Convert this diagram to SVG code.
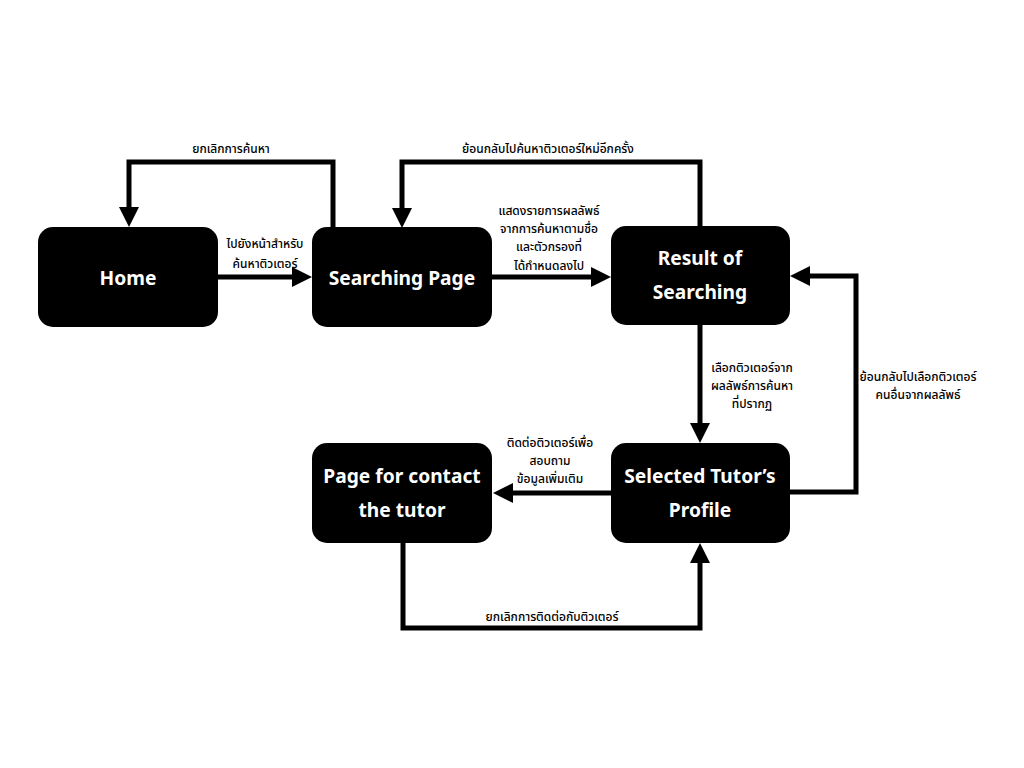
<svg xmlns="http://www.w3.org/2000/svg" width="1024" height="768" viewBox="0 0 1024 768">
<style>
.node rect{fill:#000;}
.node text{fill:#fff;font-family:"Noto Sans","Open Sans","DejaVu Sans",sans-serif;font-weight:700;font-size:19.2px;text-anchor:middle;dominant-baseline:central;}
.edge{fill:none;stroke:#000;stroke-width:5;marker-end:url(#arr);}
.lbl{fill:#000;font-family:"Noto Sans","Noto Sans Thai","DejaVu Sans",sans-serif;font-weight:500;font-size:12px;text-anchor:middle;dominant-baseline:central;}
</style>
<defs>
<marker id="arr" viewBox="0 0 20 20" markerWidth="20" markerHeight="20" markerUnits="userSpaceOnUse" refX="0" refY="10" orient="auto">
<path d="M0,0 L20,10 L0,20 z" fill="#000"/>
</marker>
</defs>
<rect width="1024" height="768" fill="#fff"/>
<g id="connectors">
<path class="edge" d="M218,277 H292"/>
<path class="edge" d="M333,228 V162 H129 V207"/>
<path class="edge" d="M491,277 H591"/>
<path class="edge" d="M700,226 V162 H402 V208"/>
<path class="edge" d="M700,325 V423"/>
<path class="edge" d="M790,492 H856 V276 H810"/>
<path class="edge" d="M611,493 H513"/>
<path class="edge" d="M403,543 V628 H700 V563"/>
</g>
<g id="labels">
<text class="lbl" x="231" y="148">ยกเลิกการค้นหา</text>
<text class="lbl" x="548" y="148">ย้อนกลับไปค้นหาติวเตอร์ใหม่อีกครั้ง</text>
<text class="lbl" x="265" y="243">ไปยังหน้าสำหรับ</text>
<text class="lbl" x="265" y="263">ค้นหาติวเตอร์</text>
<text class="lbl" x="549" y="210">แสดงรายการผลลัพธ์</text>
<text class="lbl" x="549" y="228">จากการค้นหาตามชื่อ</text>
<text class="lbl" x="549" y="246">และตัวกรองที่</text>
<text class="lbl" x="549" y="265">ได้กำหนดลงไป</text>
<text class="lbl" x="752" y="367">เลือกติวเตอร์จาก</text>
<text class="lbl" x="752" y="385">ผลลัพธ์การค้นหา</text>
<text class="lbl" x="752" y="403">ที่ปรากฏ</text>
<text class="lbl" x="918" y="376">ย้อนกลับไปเลือกติวเตอร์</text>
<text class="lbl" x="918" y="394">คนอื่นจากผลลัพธ์</text>
<text class="lbl" x="550" y="442">ติดต่อติวเตอร์เพื่อ</text>
<text class="lbl" x="550" y="460">สอบถาม</text>
<text class="lbl" x="550" y="478">ข้อมูลเพิ่มเติม</text>
<text class="lbl" x="552" y="616">ยกเลิกการติดต่อกับติวเตอร์</text>
</g>
<g id="home" class="node">
<rect x="38" y="227" width="180" height="100" rx="15"/>
<text x="128" y="277">Home</text>
</g>
<g id="searching" class="node">
<rect x="312" y="227" width="180" height="100" rx="15"/>
<text x="402" y="277">Searching Page</text>
</g>
<g id="result" class="node">
<rect x="611" y="226" width="179" height="99" rx="15"/>
<text x="700" y="257">Result of</text>
<text x="700" y="291">Searching</text>
</g>
<g id="selected" class="node">
<rect x="611" y="443" width="179" height="100" rx="15"/>
<text x="700" y="475">Selected Tutor’s</text>
<text x="700" y="509">Profile</text>
</g>
<g id="contact" class="node">
<rect x="312" y="443" width="180" height="100" rx="15"/>
<text x="402" y="475">Page for contact</text>
<text x="402" y="509">the tutor</text>
</g>
</svg>
